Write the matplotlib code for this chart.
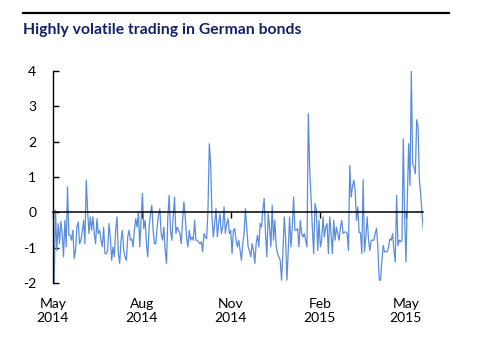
import matplotlib.pyplot as plt
import matplotlib.dates as mdates
from matplotlib.lines import Line2D
import pandas as pd

plt.rcParams['font.family'] = ['Lato', 'DejaVu Sans']

title = 'Highly volatile trading in German bonds'
start_date = '2014-05-01'
end_date = '2015-05-19'
tick_dates = ['2014-05-01', '2014-08-01', '2014-11-01', '2015-02-01', '2015-05-01']
tick_labels = ['May\n2014', 'Aug\n2014', 'Nov\n2014', 'Feb\n2015', 'May\n2015']
y_ticks = [-2, -1, 0, 1, 2, 3, 4]

# daily readings
may_jul_2014 = [-0.27, -2.02, 0.06, -1.08, -0.32, -0.89, -0.27, -0.6, -1.26, -0.23,
                -0.98, 0.72, -0.65, -0.65, -0.79, -0.51, -1.31, -1.08, -0.42, -0.27,
                -0.89, -0.79, -0.55, -0.23, -0.89, 0.91, 0.06, -0.6, -0.13, -0.51,
                -0.13, -0.6, -0.89, -0.18, -0.6, -0.51, -0.79, -0.98, -0.42, -1.17,
                -1.17, -1.08]
jul_sep_2014 = [-0.32, -0.70, -1.36, -0.98, -1.26, -0.51, -0.13, -1.17, -1.45, -0.79,
                -0.51, -1.08, -1.26, -1.36, -0.70, -0.51, -0.79, -0.75, -0.98, -0.51,
                -0.18, -0.42, 0.01, -0.98, -0.23, 0.53, -0.46, -0.23, -0.89, -1.26,
                -0.42, -0.04, 0.20, -0.51, -0.89, -0.89, -0.42, -0.08, 0.10, -0.60,
                -0.79, -0.42, -1.08, -1.45, -0.13]
sep_nov_2014 = [0.48, -0.51, -0.79, -0.13, 0.43, -0.60, -0.42, -0.51, -0.60, -0.89,
                -0.23, 0.29, -0.13, -0.70, -0.98, -0.51, -0.79, -0.70, -0.79, -0.23,
                -0.79, -0.79, -0.84, -0.89, -0.84, -1.12, -0.60, -0.70, -0.75, 0.06,
                1.94, 1.38, -0.13, -0.70, -0.32, 0.10, -0.70, -0.32, -0.04, -0.60,
                -0.42, 0.15, -0.60, -0.32, -0.18, -0.60, -0.51]
nov_jan_2015 = [-1.17, -0.51, -0.46, -0.79, -0.98, -0.79, -1.08, -1.36, -0.89, -0.60,
                0.10, -0.42, -0.98, -1.08, -1.26, -0.89, -1.08, -1.45, -0.89, -0.65,
                -0.98, -0.32, -0.42, 0.06, 0.39, -0.60, -1.26, -0.04, -0.42, -0.98,
                0.20, -0.79, -0.23, -0.98, -1.17, -1.26, -1.36, -1.92, -1.17, -0.13,
                -0.70, -1.92, -1.08, -0.13, -0.98, -0.42, 0.43, -0.51]
jan_mar_2015 = [-0.51, -0.46, -0.98, -0.23, -0.60, -0.70, -0.60, -0.79, -0.98, 2.79,
                1.28, 0.43, -0.42, -1.17, 0.25, 0.06, -1.08, -0.23, -0.98, -0.79,
                -0.13, -0.70, -0.42, -0.32, -1.17, -0.13, -0.60, -1.17, -0.23, -0.79,
                -0.42, -0.60, -0.79, -0.42, -0.23, -0.60, -0.56, -0.56, -0.60, -1.08,
                1.33, 0.43, 0.72, 0.91, 0.62, -0.23, 0.15]
mar_may_2015 = [-0.58, -0.58, -1.17, 0.92, -1.12, -0.70, -0.13, -0.79, -1.08, -0.79,
                -0.79, -0.79, -0.60, -0.46, -0.98, -1.92, -1.92, -1.36, -0.94, -1.12,
                -1.12, -1.12, -0.98, -0.75, -0.79, -0.60, -1.08, -1.41, 0.48, -0.94,
                -0.79, -0.84, -0.79, 2.08, -0.13, -1.41, 0.34, 1.94, 0.76, 4.0,
                1.38, 1.28, 1.09, 2.62, 2.43, 0.92, 0.53, -0.04, -0.51]

values = (may_jul_2014 + jul_sep_2014 + sep_nov_2014 + nov_jan_2015
          + jan_mar_2015 + mar_may_2015)
dates = pd.date_range(start_date, end_date, periods=len(values))

navy = '#14206a'
line_blue = '#5a8ddc'

fig = plt.figure(figsize=(4.8, 3.6), dpi=100)
ax = fig.add_axes([0.110, 0.214, 0.772, 0.589])

ax.plot(dates, values, color=line_blue, lw=0.9)

ax.set_xlim(pd.Timestamp(start_date), pd.Timestamp(end_date))
ax.set_ylim(-2, 4)
ax.set_yticks(y_ticks)
ax.set_yticklabels([str(t) for t in y_ticks])

# zero line doubles as the x axis
for side in ['top', 'right']:
    ax.spines[side].set_visible(False)
ax.spines['bottom'].set_position(('data', 0))
ax.spines['bottom'].set_linewidth(1.1)
ax.spines['left'].set_linewidth(1.0)

tick_nums = mdates.date2num(pd.to_datetime(tick_dates))
ax.set_xticks(tick_nums)
ax.tick_params(axis='x', direction='out', length=4, width=1, labelbottom=False)
ax.tick_params(axis='y', direction='in', length=4, width=1, pad=12,
               labelsize=10, colors='black')

# month labels sit below the plot area
sec = ax.secondary_xaxis('bottom')
sec.set_xticks(tick_nums)
sec.set_xticklabels(tick_labels)
sec.spines['bottom'].set_visible(False)
sec.tick_params(length=0, pad=11, labelsize=10, colors='black')

fig.add_artist(Line2D([23 / 480, 449 / 480], [1 - 13 / 360, 1 - 13 / 360],
                      color='black', lw=1.6))
fig.text(23 / 480, 1 - 30 / 360, title, va='center', ha='left',
         fontsize=11.3, fontweight='bold', color=navy)

fig.savefig('out.png', dpi=100)
